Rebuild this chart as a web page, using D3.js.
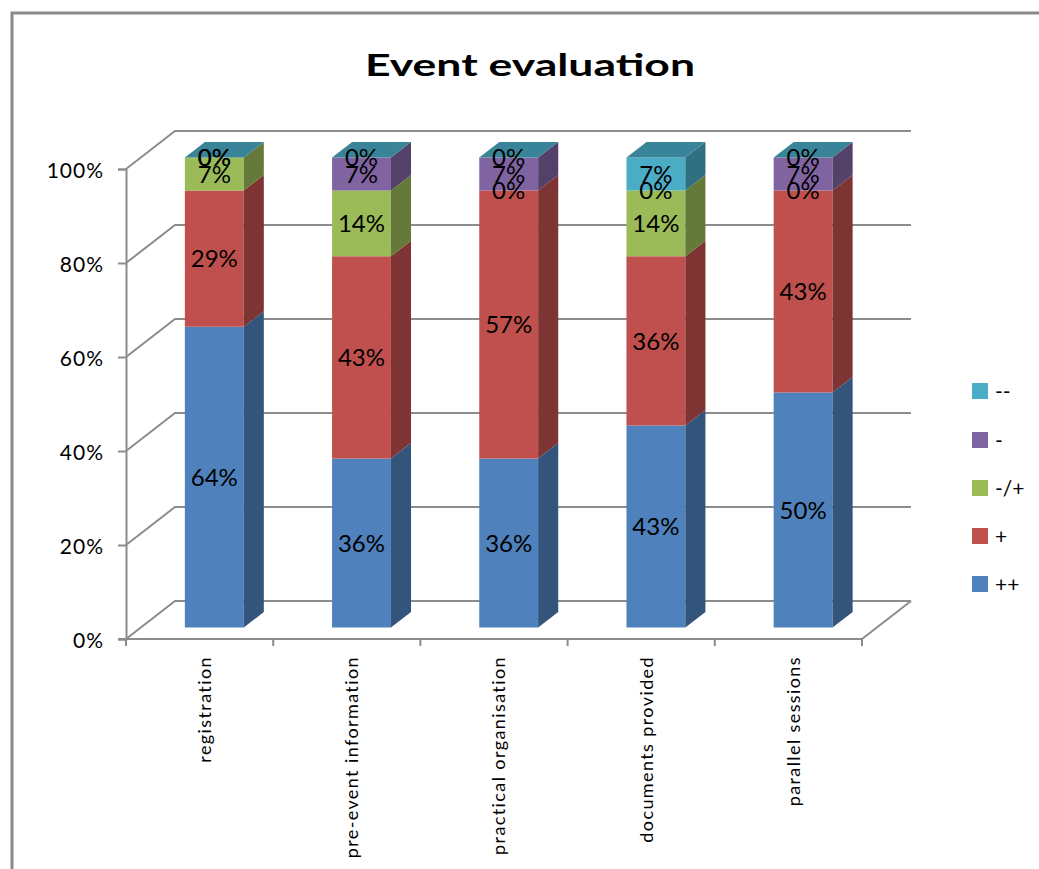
<!DOCTYPE html>
<html lang="en">
<head>
<meta charset="utf-8">
<title>Event evaluation</title>
<script src="https://d3js.org/d3.v7.min.js"></script>
<style>
  body { margin: 0; background: #fff; }
  text { font-family: Lato, "Liberation Sans", sans-serif; fill: #000; }
</style>
</head>
<body>
<script>
// data (percent of respondents)
var categories = ["registration", "pre-event information", "practical organisation", "documents provided", "parallel sessions"];
var seriesNames = ["++", "+", "-/+", "-", "--"];
var seriesColors = ["#4F81BD", "#C0504D", "#9BBB59", "#8064A2", "#4BACC6"];
var vPlusPlus = [64, 36, 36, 43, 50];
var vPlus     = [29, 43, 57, 36, 43];
var vNeutral  = [7, 14, 0, 14, 0];
var vMinus    = [0, 7, 7, 0, 7];
var vMinusMinus = [0, 0, 0, 7, 0];
var yTicks = [0, 20, 40, 60, 80, 100];

var values = [vPlusPlus, vPlus, vNeutral, vMinus, vMinusMinus];

var W = 1039, H = 869;
var depthX = 49, depthY = -38;   // full depth of the plot box
var barFront = 0.3, barBack = 0.71;

var svg = d3.select("body").append("svg")
    .attr("width", W).attr("height", H);

// chart area border
svg.append("rect")
    .attr("x", 12).attr("y", 13)
    .attr("width", W + 20).attr("height", H + 20)
    .attr("fill", "none").attr("stroke", "#8a8a8a").attr("stroke-width", 3);

svg.append("text")
    .attr("x", 530).attr("y", 76)
    .attr("text-anchor", "middle")
    .attr("textLength", 330).attr("lengthAdjust", "spacingAndGlyphs")
    .style("font-weight", "bold").style("font-size", "31px")
    .text("Event evaluation");

var x = d3.scaleBand().domain(categories).range([126, 862]).paddingInner(0.6).paddingOuter(0.3);
var y = d3.scaleLinear().domain([0, 100]).range([639, 169]);

function P(px, v, f) { return [px + f * depthX, y(v) + f * depthY]; }
function poly(pts) { return "M" + pts.map(function(p){ return p[0] + "," + p[1]; }).join("L") + "Z"; }

var grid = svg.append("g").attr("stroke", "#8c8c8c").attr("stroke-width", 2).attr("fill", "none");
yTicks.forEach(function(t) {
  var a = P(126, t, 0), b = P(126, t, 1), c = P(862, t, 1);
  grid.append("path").attr("d", "M" + a + "L" + b + "L" + c);
});
// floor right edge
grid.append("path").attr("d", "M" + P(862, 0, 0) + "L" + P(862, 0, 1));

// y axis
var yAxis = svg.append("g")
    .attr("transform", "translate(126,0)")
    .call(d3.axisLeft(y).tickValues(yTicks).tickSize(8).tickFormat(function(d){ return d + "%"; }));
yAxis.selectAll("path, line").attr("stroke", "#8c8c8c").attr("stroke-width", 2);
yAxis.selectAll("text").attr("x", -22).attr("dy", "0.4em")
    .style("font-size", "21px").style("letter-spacing", "1px")
    .style("font-family", "Lato, sans-serif").attr("fill", "#000");

// x axis line and boundary ticks
var xAxis = svg.append("g").attr("stroke", "#8c8c8c").attr("stroke-width", 2);
xAxis.append("line").attr("x1", 118).attr("x2", 862).attr("y1", y(0)).attr("y2", y(0));
d3.range(categories.length + 1).forEach(function(i) {
  var px = x.range()[0] + i * x.step();
  xAxis.append("line").attr("x1", px).attr("x2", px).attr("y1", y(0)).attr("y2", y(0) + 7);
});

// category labels
svg.append("g").selectAll("text").data(categories).enter().append("text")
    .attr("transform", function(d){ return "translate(" + (x(d) + x.bandwidth() / 2 + 5) + "," + 656 + ") rotate(-90)"; })
    .attr("text-anchor", "end").attr("dy", "0.35em")
    .style("font-size", "18px").style("letter-spacing", "1.4px")
    .text(function(d){ return d; });

// bars
var bars = svg.append("g");
var labels = svg.append("g");
categories.forEach(function(cat, ci) {
  var x0 = x(cat), x1 = x(cat) + x.bandwidth();
  var base = 0;
  values.forEach(function(vals, si) {
    var v = vals[ci];
    var top = base + v;
    var col = d3.color(seriesColors[si]);
    if (v > 0) {
      bars.append("path").attr("fill", col.toString())
        .attr("d", poly([P(x0, base, barFront), P(x1, base, barFront), P(x1, top, barFront), P(x0, top, barFront)]));
      bars.append("path").attr("fill", col.darker(1.2).toString())
        .attr("d", poly([P(x1, base, barFront), P(x1, base, barBack), P(x1, top, barBack), P(x1, top, barFront)]));
    }
    var mid = P((x0 + x1) / 2, (base + top) / 2, barFront);
    labels.append("text")
      .attr("x", mid[0]).attr("y", mid[1]).attr("dy", "0.36em")
      .attr("text-anchor", "middle").style("font-size", "24px")
      .text(v + "%");
    base = top;
  });
  // top face in colour of last series
  var topCol = d3.color(seriesColors[seriesColors.length - 1]).darker(0.75);
  bars.append("path").attr("fill", topCol.toString())
    .attr("d", poly([P(x0, base, barFront), P(x1, base, barFront), P(x1, base, barBack), P(x0, base, barBack)]));
});

// legend
var legend = svg.append("g");
var legendY = [584, 536, 488, 440, 391];
seriesNames.forEach(function(name, i) {
  legend.append("rect").attr("x", 972).attr("y", legendY[i] - 8).attr("width", 16).attr("height", 16)
    .attr("fill", seriesColors[i]);
  legend.append("text").attr("x", 995).attr("y", legendY[i]).attr("dy", "0.36em")
    .style("font-size", "21px").text(name);
});
</script>
</body>
</html>
